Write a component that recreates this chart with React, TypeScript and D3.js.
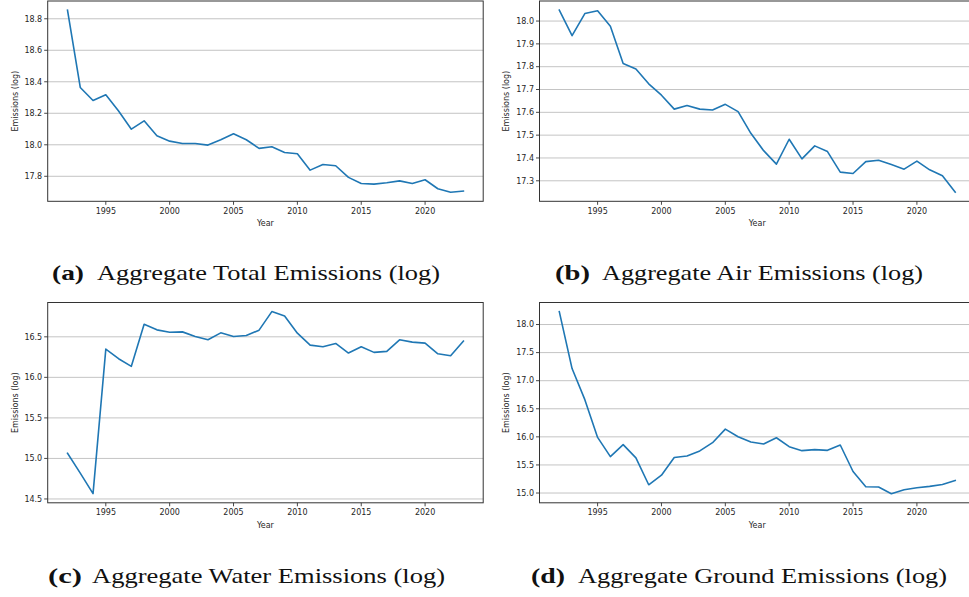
import React from "react";
import * as d3 from "d3";

const years = d3.range(1992, 2024);

const totalEmissions = [18.855, 18.364, 18.281, 18.317, 18.214, 18.099, 18.152, 18.057, 18.023, 18.008, 18.008, 17.998, 18.032, 18.07, 18.032, 17.977, 17.987, 17.951, 17.943, 17.839, 17.875, 17.867, 17.793, 17.754, 17.75, 17.759, 17.771, 17.754, 17.778, 17.721, 17.699, 17.706];
const airEmissions = [18.048, 17.936, 18.033, 18.045, 17.977, 17.814, 17.79, 17.725, 17.675, 17.614, 17.63, 17.614, 17.61, 17.635, 17.603, 17.508, 17.432, 17.373, 17.482, 17.396, 17.453, 17.428, 17.338, 17.332, 17.384, 17.39, 17.371, 17.351, 17.386, 17.348, 17.322, 17.25];
const waterEmissions = [15.064, 14.819, 14.565, 16.349, 16.23, 16.136, 16.655, 16.586, 16.557, 16.561, 16.504, 16.463, 16.549, 16.504, 16.516, 16.582, 16.811, 16.758, 16.545, 16.398, 16.377, 16.418, 16.3, 16.377, 16.308, 16.32, 16.463, 16.435, 16.422, 16.291, 16.267, 16.447];
const groundEmissions = [18.23, 17.216, 16.662, 15.99, 15.648, 15.861, 15.625, 15.147, 15.318, 15.631, 15.66, 15.749, 15.896, 16.138, 16.002, 15.908, 15.872, 15.984, 15.825, 15.754, 15.772, 15.76, 15.855, 15.383, 15.112, 15.106, 14.988, 15.059, 15.094, 15.118, 15.153, 15.224];

const xTicks = [1995, 2000, 2005, 2010, 2015, 2020];
const totalTicks = [17.8, 18.0, 18.2, 18.4, 18.6, 18.8];
const airTicks = [17.3, 17.4, 17.5, 17.6, 17.7, 17.8, 17.9, 18.0];
const waterTicks = [14.5, 15.0, 15.5, 16.0, 16.5];
const groundTicks = [15.0, 15.5, 16.0, 16.5, 17.0, 17.5, 18.0];

const captionLabels = ["(a)", "(b)", "(c)", "(d)"];
const captionTexts = [
  "Aggregate Total Emissions (log)",
  "Aggregate Air Emissions (log)",
  "Aggregate Water Emissions (log)",
  "Aggregate Ground Emissions (log)",
];

const AX_W = 435.5;
const AX_H = 200.3;
const FONT = "'DejaVu Sans', sans-serif";
const SPINE = "#333";
const TEXT = "#262626";

function Panel({ left, top, values, ticks }: { left: number; top: number; values: number[]; ticks: number[] }) {
  const x = d3.scaleLinear().domain([1990.45, 2024.55]).range([left, left + AX_W]);
  const [mn, mx] = d3.extent(values) as [number, number];
  const m = (mx - mn) * 0.05;
  const y = d3.scaleLinear().domain([mn - m, mx + m]).range([top + AX_H, top]);
  const line = d3
    .line<number>()
    .x((_, i) => x(years[i]))
    .y((d) => y(d));
  const bottom = top + AX_H;
  return (
    <g>
      {ticks.map((t) => (
        <line key={"g" + t} x1={left} x2={left + AX_W} y1={y(t)} y2={y(t)} stroke="#c4c4c4" strokeWidth={1} />
      ))}
      <path d={line(values) || ""} fill="none" stroke="#1f77b4" strokeWidth={1.6} strokeLinejoin="round" strokeLinecap="square" />
      <rect x={left} y={top} width={AX_W} height={AX_H} fill="none" stroke={SPINE} strokeWidth={1} />
      {ticks.map((t) => (
        <g key={"y" + t}>
          <line x1={left - 3.5} x2={left} y1={y(t)} y2={y(t)} stroke={SPINE} strokeWidth={0.9} />
          <text x={left - 5.5} y={y(t)} dy="0.35em" textAnchor="end" fontSize={8} fontFamily={FONT} fill={TEXT}>
            {t.toFixed(1)}
          </text>
        </g>
      ))}
      {xTicks.map((t) => (
        <g key={"x" + t}>
          <line x1={x(t)} x2={x(t)} y1={bottom} y2={bottom + 3.5} stroke={SPINE} strokeWidth={0.9} />
          <text x={x(t)} y={bottom + 12.5} textAnchor="middle" fontSize={8} fontFamily={FONT} fill={TEXT}>
            {t}
          </text>
        </g>
      ))}
      <text x={left + AX_W / 2} y={bottom + 25} textAnchor="middle" fontSize={8} fontFamily={FONT} fill={TEXT}>
        Year
      </text>
      <text
        transform={`translate(${left - 33}, ${top + AX_H / 2}) rotate(-90)`}
        dy="0.35em"
        textAnchor="middle"
        fontSize={8}
        fontFamily={FONT}
        fill={TEXT}
      >
        Emissions (log)
      </text>
    </g>
  );
}

function Caption({ lx, lw, tx, tw, y, label, text }: any) {
  const serif = "'Liberation Serif', 'DejaVu Serif', serif";
  return (
    <g>
      <text x={lx} y={y} fontSize={22} fontWeight="bold" fontFamily={serif} fill="#111" textLength={lw} lengthAdjust="spacingAndGlyphs">
        {label}
      </text>
      <text x={tx} y={y} fontSize={22} fontFamily={serif} fill="#111" textLength={tw} lengthAdjust="spacingAndGlyphs">
        {text}
      </text>
    </g>
  );
}

export default function App() {
  const lefts = [47.7, 539.5];
  const tops = [1, 302.5];
  return (
    <svg width={969} height={597} style={{ position: "absolute", left: 0, top: 0, background: "#fff" }}>
      <rect width={969} height={597} fill="#fff" />
      <Panel left={lefts[0]} top={tops[0]} values={totalEmissions} ticks={totalTicks} />
      <Panel left={lefts[1]} top={tops[0]} values={airEmissions} ticks={airTicks} />
      <Panel left={lefts[0]} top={tops[1]} values={waterEmissions} ticks={waterTicks} />
      <Panel left={lefts[1]} top={tops[1]} values={groundEmissions} ticks={groundTicks} />
      <Caption lx={52} lw={32} tx={97} tw={343} y={280} label={captionLabels[0]} text={captionTexts[0]} />
      <Caption lx={555} lw={35} tx={602} tw={321} y={280} label={captionLabels[1]} text={captionTexts[1]} />
      <Caption lx={48} lw={34} tx={92} tw={353} y={583} label={captionLabels[2]} text={captionTexts[2]} />
      <Caption lx={531} lw={34} tx={578} tw={369} y={583} label={captionLabels[3]} text={captionTexts[3]} />
    </svg>
  );
}
